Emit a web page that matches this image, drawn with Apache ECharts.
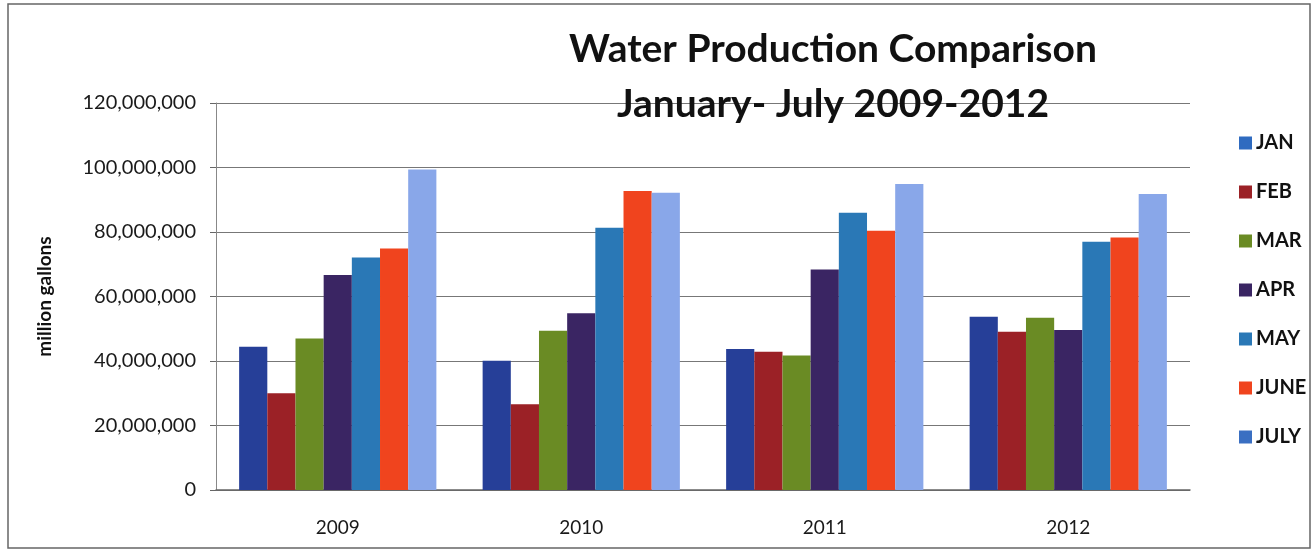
<!DOCTYPE html>
<html><head><meta charset="utf-8">
<script src="https://cdn.jsdelivr.net/npm/echarts@6/dist/echarts.min.js"></script>
<style>html,body{margin:0;padding:0;background:#fff}#c{width:1313px;height:554px}</style>
</head><body><div id="c"></div>
<script>
const years = ['2009','2010','2011','2012'];
const months = ['JAN','FEB','MAR','APR','MAY','JUNE','JULY'];
const JAN  = [44400000, 40100000, 43700000, 53700000];
const FEB  = [30000000, 26600000, 42900000, 49100000];
const MAR  = [47000000, 49400000, 41700000, 53400000];
const APR  = [66700000, 54800000, 68400000, 49600000];
const MAY  = [72100000, 81300000, 86000000, 77000000];
const JUNE = [74900000, 92700000, 80400000, 78300000];
const JULY = [99400000, 92200000, 94900000, 91800000];
const seriesValues = [JAN, FEB, MAR, APR, MAY, JUNE, JULY];
const yTicks = [0, 20000000, 40000000, 60000000, 80000000, 100000000, 120000000];

const barColors = ['#263f98','#9b2126','#6a8b24','#3a2563','#2a78b6','#f0441e','#89a7e9'];
const legendColors = ['#2f6bc0','#9b2126','#6a8b24','#3a2563','#2a78b6','#f0441e','#3a6fc2'];
const font = 'Lato, "Open Sans", sans-serif';

const chart = echarts.init(document.getElementById('c'));
chart.setOption({
  backgroundColor: '#fff',
  animation: false,
  title: {
    text: 'Water Production Comparison\nJanuary- July 2009-2012',
    left: 828, top: 17, textAlign: 'center',
    textStyle: {fontFamily: font, fontWeight: 'bold', fontSize: 39, lineHeight: 55, color: '#111'}
  },
  graphic: [
    {type: 'rect', shape: {x: 8, y: 4, width: 1302, height: 544},
     style: {fill: 'none', stroke: '#666', lineWidth: 1.5}, silent: true}
  ],
  legend: {
    orient: 'vertical', left: 1234, top: 128, itemGap: 29,
    itemWidth: 13, itemHeight: 13, icon: 'rect',
    textStyle: {fontFamily: font, fontSize: 20, fontWeight: 'bold', color: '#111', padding: [0,0,0,-1]},
    data: months.map((m, i) => ({name: m, itemStyle: {color: legendColors[i]}}))
  },
  grid: {left: 216, right: 123, top: 103, bottom: 64},
  xAxis: {
    type: 'category', data: years,
    axisLine: {lineStyle: {color: '#666', width: 1.5}},
    axisTick: {show: false},
    axisLabel: {fontFamily: font, fontSize: 19, color: '#1a1a1a', margin: 28}
  },
  yAxis: {
    type: 'value', min: 0, max: 120000000, interval: 20000000,
    name: 'million gallons', nameLocation: 'middle', nameGap: 162, nameRotate: 90,
    nameTextStyle: {fontFamily: font, fontSize: 19, fontWeight: 'bold', color: '#111'},
    axisLine: {show: true, lineStyle: {color: '#888'}},
    axisTick: {show: true, length: 6, lineStyle: {color: '#666'}},
    axisLabel: {fontFamily: font, fontSize: 20, color: '#1a1a1a', margin: 20,
      formatter: v => yTicks.includes(v) ? v.toLocaleString('en-US') : ''},
    splitLine: {lineStyle: {color: '#777', width: 1.2}}
  },
  series: months.map((m, i) => ({
    name: m, type: 'bar', data: seriesValues[i],
    barGap: '0%', barCategoryGap: '19%',
    itemStyle: {color: barColors[i]}
  }))
});
</script></body></html>
